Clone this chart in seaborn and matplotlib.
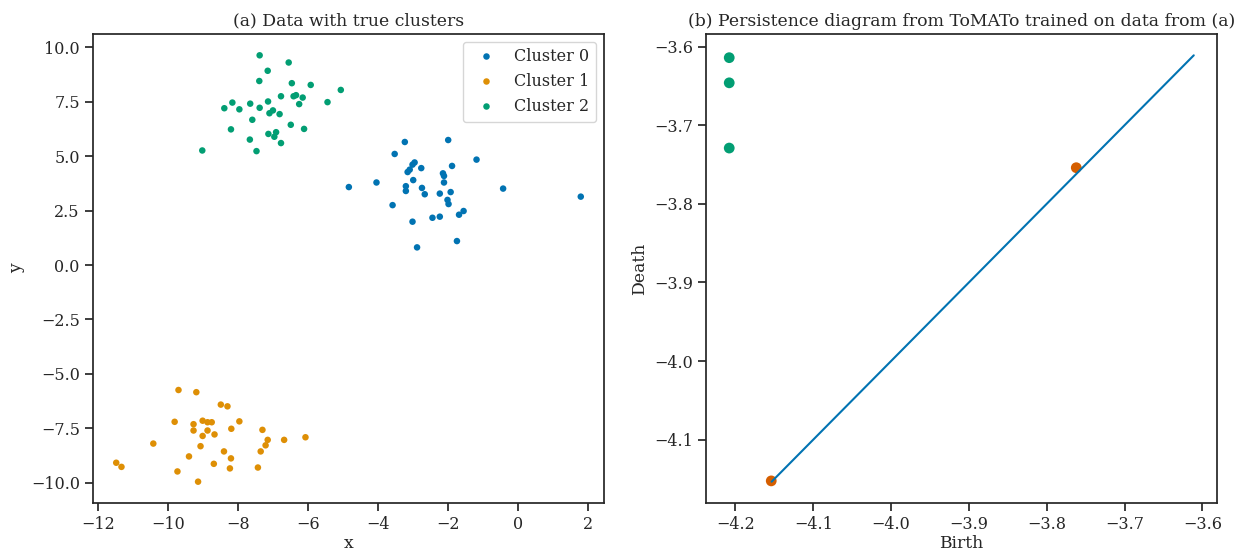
import numpy as np
import pandas as pd
import matplotlib
matplotlib.use("Agg")
import matplotlib.pyplot as plt
import seaborn as sns

# ---- data: panel (a) ----
c0_x = [-3.24, -2.00, -3.53, -1.19, -2.96, -3.02, -3.10, -3.16, -1.89, -2.77, -2.15, -2.12,
        -3.00, -2.12, -4.05, -4.84, -3.21, -2.75, -0.43, -3.21, -1.93, -2.24, -2.67, 1.79,
        -2.02, -1.99, -3.59, -1.56, -1.69, -2.45, -2.24, -3.02, -1.75, -2.89]
c0_y = [5.65, 5.74, 5.10, 4.84, 4.71, 4.61, 4.38, 4.27, 4.55, 4.45, 4.21, 4.09,
        3.90, 3.79, 3.79, 3.58, 3.62, 3.54, 3.51, 3.40, 3.35, 3.28, 3.25, 3.14,
        2.99, 2.80, 2.75, 2.48, 2.31, 2.17, 2.22, 1.99, 1.10, 0.81]
c1_x = [-9.71, -9.20, -8.50, -8.31, -9.82, -9.02, -8.88, -8.76, -7.97, -9.28, -8.20, -7.31,
        -9.28, -8.88, -8.68, -9.02, -7.16, -6.69, -6.08, -10.43, -7.22, -9.08, -9.41, -8.41,
        -7.36, -8.21, -11.49, -11.34, -8.70, -8.24, -7.44, -9.74, -9.15]
c1_y = [-5.74, -5.84, -6.41, -6.49, -7.20, -7.15, -7.22, -7.22, -7.18, -7.31, -7.52, -7.57,
        -7.60, -7.60, -7.78, -7.85, -8.03, -8.03, -7.91, -8.20, -8.28, -8.32, -8.79, -8.56,
        -8.56, -8.88, -9.08, -9.27, -9.13, -9.34, -9.30, -9.48, -9.95]
c2_x = [-7.39, -6.56, -7.16, -7.40, -6.47, -5.93, -5.07, -6.78, -6.42, -6.35, -6.16, -7.15,
        -5.45, -8.17, -7.66, -6.26, -8.40, -7.97, -7.39, -7.01, -7.11, -6.82, -7.60, -6.50,
        -8.21, -6.12, -7.14, -6.92, -6.97, -7.67, -6.78, -7.48, -9.03]
c2_y = [9.63, 9.30, 8.92, 8.45, 8.35, 8.27, 8.04, 7.75, 7.75, 7.80, 7.69, 7.51,
        7.48, 7.46, 7.41, 7.39, 7.20, 7.15, 7.22, 7.10, 6.97, 6.93, 6.67, 6.44,
        6.23, 6.25, 6.02, 6.10, 5.89, 5.76, 5.60, 5.23, 5.26]
cluster_names = ["Cluster 0", "Cluster 1", "Cluster 2"]

# ---- data: panel (b) ----
birth = [-4.208, -4.208, -4.208, -4.154, -3.762]
death = [-3.614, -3.646, -3.729, -4.1525, -3.754]
point_kind = ["top", "top", "top", "diag", "diag"]
diag_ends = [-4.1535, -3.611]

sns.set_theme(style="ticks", context="notebook")
plt.rcParams["font.family"] = ["DejaVu Serif"]

pal = sns.color_palette("colorblind")

df_a = pd.DataFrame({
    "x": c0_x + c1_x + c2_x,
    "y": c0_y + c1_y + c2_y,
    "cluster": [cluster_names[0]] * len(c0_x) + [cluster_names[1]] * len(c1_x)
               + [cluster_names[2]] * len(c2_x),
})
df_b = pd.DataFrame({"Birth": birth, "Death": death, "kind": point_kind})

fig = plt.figure(figsize=(12.39, 5.53), dpi=100)
ax1 = fig.add_axes([93 / 1239, 1 - 503 / 553, 511 / 1239, 469 / 553])
ax2 = fig.add_axes([706 / 1239, 1 - 503 / 553, 511 / 1239, 469 / 553])

sns.scatterplot(data=df_a, x="x", y="y", hue="cluster", hue_order=cluster_names,
                palette=pal[:3], s=22, linewidth=0, ax=ax1)
h, l = ax1.get_legend_handles_labels()
ax1.legend(h, l, loc="upper right", fontsize=11.5)
ax1.set_title("(a) Data with true clusters", fontsize=12.4)
ax1.set_xlabel("x", fontsize=12.4, labelpad=1)
ax1.set_ylabel("y", fontsize=12.4)

sns.scatterplot(data=df_b, x="Birth", y="Death", hue="kind", hue_order=["top", "diag"],
                palette=[pal[2], pal[3]], s=60, linewidth=0, legend=False, ax=ax2, zorder=2)
sns.lineplot(x=diag_ends, y=diag_ends, color=pal[0], linewidth=1.5, ax=ax2, zorder=3)
ax2.set_title("(b) Persistence diagram from ToMATo trained on data from (a)", fontsize=12.4)
ax2.set_xlabel("Birth", fontsize=12.4, labelpad=1)
ax2.set_ylabel("Death", fontsize=12.4)

for ax in (ax1, ax2):
    for s in ax.spines.values():
        s.set_visible(True)
        s.set_linewidth(1.25)
    ax.tick_params(labelsize=11.5)

fig.savefig("out.png", dpi=100)
